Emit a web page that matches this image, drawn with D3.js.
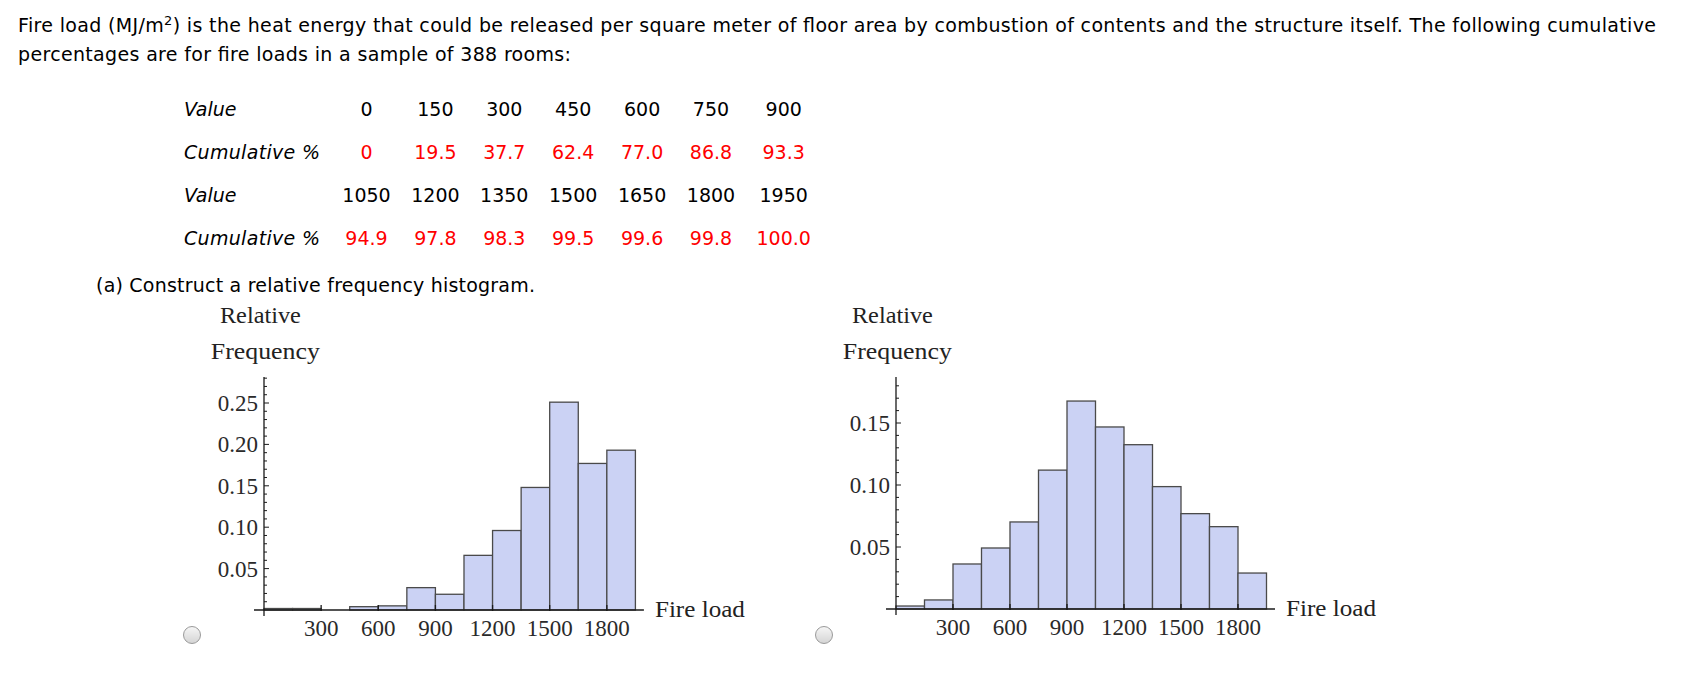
<!DOCTYPE html>
<html>
<head>
<meta charset="utf-8">
<script src="https://cdn.jsdelivr.net/npm/d3@7"></script>
<style>
html, body { margin: 0; padding: 0; background: #ffffff; }
svg { display: block; }
</style>
</head>
<body>
<svg id="chart" width="1687" height="682"></svg>
<script>
// ---------------- data ----------------
const binEdges = [0, 150, 300, 450, 600, 750, 900, 1050, 1200, 1350, 1500, 1650, 1800, 1950];
const leftFreq = [0.0018, 0.0018, 0.0, 0.004, 0.005, 0.027, 0.019, 0.066, 0.096, 0.148, 0.251, 0.177, 0.193];
const rightFreq = [0.0024, 0.0073, 0.0363, 0.0492, 0.0702, 0.112, 0.1677, 0.1468, 0.1325, 0.0987, 0.0769, 0.0664, 0.029];
const xTickValues = [300, 600, 900, 1200, 1500, 1800];
const leftYTicks = [0.05, 0.10, 0.15, 0.20, 0.25];
const rightYTicks = [0.05, 0.10, 0.15];
const tableRowLabels = ["Value", "Cumulative %", "Value", "Cumulative %"];
const tableValues1 = ["0", "150", "300", "450", "600", "750", "900"];
const tableCum1 = ["0", "19.5", "37.7", "62.4", "77.0", "86.8", "93.3"];
const tableValues2 = ["1050", "1200", "1350", "1500", "1650", "1800", "1950"];
const tableCum2 = ["94.9", "97.8", "98.3", "99.5", "99.6", "99.8", "100.0"];
const introLine1 = ["Fire load (MJ/m", "2", ") is the heat energy that could be released per square meter of floor area by combustion of contents and the structure itself. The following cumulative"];
const introLine2 = "percentages are for fire loads in a sample of 388 rooms:";
const partA = "(a) Construct a relative frequency histogram.";
const yLabel = ["Relative", "Frequency"];
const xLabel = "Fire load";

// ---------------- drawing ----------------
const svg = d3.select("#chart");
svg.append("rect").attr("width", 1687).attr("height", 682).attr("fill", "#ffffff");

const sans = "'DejaVu Sans', Verdana, sans-serif";
const serif = "'Liberation Serif', 'Times New Roman', serif";

// intro paragraph
const t1 = svg.append("text").attr("x", 18).attr("y", 31.7)
  .attr("font-family", sans).attr("font-size", 19).attr("fill", "#000")
  .attr("textLength", 1638).attr("lengthAdjust", "spacing");
t1.append("tspan").text(introLine1[0]);
t1.append("tspan").attr("dy", -7).attr("font-size", 13).text(introLine1[1]);
t1.append("tspan").attr("dy", 7).text(introLine1[2]);

svg.append("text").attr("x", 18).attr("y", 61)
  .attr("font-family", sans).attr("font-size", 19).attr("fill", "#000")
  .attr("textLength", 553).attr("lengthAdjust", "spacing")
  .text(introLine2);

// table
const rowBaselines = [116, 159.3, 201.7, 245];
const rowData = [tableValues1, tableCum1, tableValues2, tableCum2];
const colCenter = i => 366.5 + i * 68.9 + (i === 6 ? 3.8 : 0);
rowData.forEach((row, r) => {
  const lab = svg.append("text").attr("x", 184).attr("y", rowBaselines[r])
    .attr("font-family", sans).attr("font-style", "italic").attr("font-size", 19)
    .attr("fill", "#000").text(tableRowLabels[r]);
  if (r % 2 === 1) lab.attr("textLength", 136).attr("lengthAdjust", "spacing");
  svg.selectAll(null).data(row).enter().append("text")
    .attr("x", (d, i) => colCenter(i)).attr("y", rowBaselines[r])
    .attr("text-anchor", "middle")
    .attr("font-family", sans).attr("font-size", 19)
    .attr("fill", r % 2 === 1 ? "#ff0000" : "#000")
    .text(d => d);
});

svg.append("text").attr("x", 96).attr("y", 292)
  .attr("font-family", sans).attr("font-size", 19).attr("fill", "#000")
  .attr("textLength", 439).attr("lengthAdjust", "spacing")
  .text(partA);

// radio buttons
const defs = svg.append("defs");
const grad = defs.append("linearGradient").attr("id", "radioGrad")
  .attr("x1", 0).attr("y1", 0).attr("x2", 0).attr("y2", 1);
grad.append("stop").attr("offset", "0%").attr("stop-color", "#f6f6f6");
grad.append("stop").attr("offset", "100%").attr("stop-color", "#d4d4d4");

function radio(cx, cy) {
  svg.append("circle").attr("cx", cx).attr("cy", cy).attr("r", 8.5)
    .attr("fill", "url(#radioGrad)").attr("stroke", "#9a9a9a").attr("stroke-width", 1);
}
radio(192, 635);
radio(824, 635);

// histogram
function histogram(freq, o) {
  const g = svg.append("g");
  const x = d3.scaleLinear().domain([0, 1950]).range([o.x0, o.x0 + 1950 * o.pxPerX]);
  const y = d3.scaleLinear().domain([0, o.yMax]).range([o.y0, o.y0 - o.yMax * o.pxPerY]);

  const bins = freq.map((f, i) => ({ a: binEdges[i], b: binEdges[i + 1], f }));
  g.selectAll("rect.bar").data(bins).enter().append("rect")
    .attr("class", "bar")
    .attr("x", d => x(d.a)).attr("width", d => x(d.b) - x(d.a))
    .attr("y", d => y(d.f)).attr("height", d => y(0) - y(d.f))
    .attr("fill", "#cbd2f4").attr("stroke", "#4a4a4a").attr("stroke-width", 1.3);

  // axes
  const ax = "#1a1a1a";
  g.append("line").attr("x1", x(0) - 10).attr("x2", x(1950) + 8.5)
    .attr("y1", y(0)).attr("y2", y(0)).attr("stroke", ax).attr("stroke-width", 1.6);
  g.append("line").attr("x1", x(0)).attr("x2", x(0))
    .attr("y1", y(o.yMax)).attr("y2", y(0) + 6).attr("stroke", ax).attr("stroke-width", 1.3);

  // y ticks (minor every 0.01)
  const minor = d3.range(1, Math.floor(o.yMax * 100 + 1e-6) + 1).map(i => i / 100);
  g.selectAll("line.ytick").data(minor).enter().append("line")
    .attr("x1", x(0)).attr("x2", d => x(0) + (Math.round(d * 100) % 5 === 0 ? 5 : 3))
    .attr("y1", d => y(d)).attr("y2", d => y(d))
    .attr("stroke", ax).attr("stroke-width", 1);
  g.selectAll("text.ylab").data(o.yTicks).enter().append("text")
    .attr("x", x(0) - 6).attr("y", d => y(d)).attr("dy", "0.35em")
    .attr("text-anchor", "end").attr("font-family", serif).attr("font-size", 23)
    .attr("fill", "#2a2a2a").text(d => d3.format(".2f")(d));

  // x ticks
  g.selectAll("line.xtick").data(xTickValues).enter().append("line")
    .attr("x1", d => x(d)).attr("x2", d => x(d))
    .attr("y1", y(0) - 5).attr("y2", y(0) + 1)
    .attr("stroke", ax).attr("stroke-width", 1.3);
  g.selectAll("text.xlab").data(xTickValues).enter().append("text")
    .attr("x", d => x(d)).attr("y", y(0) + 25.5)
    .attr("text-anchor", "middle").attr("font-family", serif).attr("font-size", 23)
    .attr("fill", "#2a2a2a").text(d => d);

  // labels
  g.append("text").attr("x", x(1950) + 19.5).attr("y", y(0) + 7)
    .attr("font-family", serif).attr("font-size", 23).attr("fill", "#222")
    .attr("textLength", 90).attr("lengthAdjust", "spacingAndGlyphs").text(xLabel);
  g.append("text").attr("x", x(0) - 3.6).attr("y", 323.3).attr("text-anchor", "middle")
    .attr("font-family", serif).attr("font-size", 23).attr("fill", "#222")
    .attr("textLength", 81).attr("lengthAdjust", "spacingAndGlyphs").text(yLabel[0]);
  g.append("text").attr("x", x(0) + 1.3).attr("y", 359.3).attr("text-anchor", "middle")
    .attr("font-family", serif).attr("font-size", 23).attr("fill", "#222")
    .attr("textLength", 109).attr("lengthAdjust", "spacingAndGlyphs").text(yLabel[1]);
}

histogram(leftFreq, { x0: 264, y0: 610, pxPerX: 57.14 / 300, pxPerY: 828, yMax: 0.2814, yTicks: leftYTicks });
histogram(rightFreq, { x0: 896, y0: 609, pxPerX: 57.0 / 300, pxPerY: 1240, yMax: 0.1871, yTicks: rightYTicks });
</script>
</body>
</html>
